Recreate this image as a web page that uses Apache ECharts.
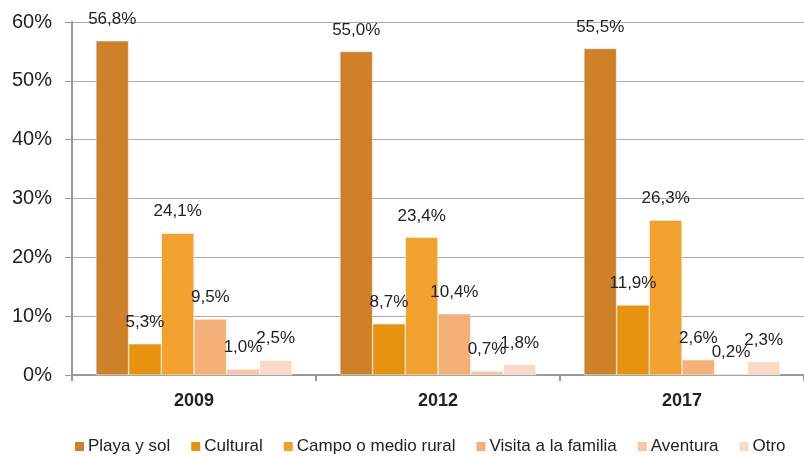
<!DOCTYPE html>
<html>
<head>
<meta charset="utf-8">
<script src="https://cdn.jsdelivr.net/npm/echarts@6/dist/echarts.min.js"></script>
<style>
  html, body { margin: 0; padding: 0; background: #fff; }
  #main { width: 804px; height: 456px; }
</style>
</head>
<body>
<div id="main"></div>
<script>
var years = ['2009', '2012', '2017']
var names = ['Playa y sol', 'Cultural', 'Campo o medio rural', 'Visita a la familia', 'Aventura', 'Otro']
var colors = ['#CF8129', '#E8930F', '#F2A02E', '#F5B077', '#F8C6A4', '#FBDAC8']
var playa = [56.8, 55.0, 55.5]
var cultural = [5.3, 8.7, 11.9]
var campo = [24.1, 23.4, 26.3]
var visita = [9.5, 10.4, 2.6]
var aventura = [1.0, 0.7, 0.2]
var otro = [2.5, 1.8, 2.3]
var values = [playa, cultural, campo, visita, aventura, otro]

var font = 'Liberation Sans, Arial, sans-serif'
var chart = echarts.init(document.getElementById('main'))

var series = names.map(function (n, i) {
  return {
    name: n,
    type: 'bar',
    data: values[i],
    barGap: '0%',
    barCategoryGap: '19.6%',
    itemStyle: { color: colors[i], borderColor: '#fff', borderWidth: 0.5 },
    label: {
      show: true,
      position: 'top',
      distance: 13,
      color: '#222',
      fontSize: 17,
      fontFamily: font,
      formatter: function (p) { return p.value.toFixed(1).replace('.', ',') + '%' }
    }
  }
})

chart.setOption({
  animation: false,
  legend: {
    bottom: 1,
    left: 73,
    padding: 0,
    itemWidth: 11,
    itemHeight: 11,
    itemGap: 19,
    icon: 'rect',
    textStyle: { fontSize: 17, color: '#222', fontFamily: font, padding: [0, 0, 0, -2] },
    data: names
  },
  grid: { left: 72, right: 0, top: 22, bottom: 81, containLabel: false },
  xAxis: {
    type: 'category',
    data: years,
    axisLine: { lineStyle: { color: '#999', width: 2 } },
    axisTick: { show: true, length: 6, lineStyle: { color: '#999', width: 2 } },
    axisLabel: { fontSize: 18, fontWeight: 'bold', color: '#222', fontFamily: font, margin: 17 }
  },
  yAxis: {
    type: 'value',
    min: 0,
    max: 60,
    interval: 10,
    axisLine: { show: true, lineStyle: { color: '#999', width: 2 } },
    axisTick: { show: true, length: 7, lineStyle: { color: '#999', width: 1 } },
    splitLine: { lineStyle: { color: '#aaa', width: 1 } },
    axisLabel: { fontSize: 20, color: '#222', fontFamily: font, margin: 20, formatter: '{value}%' }
  },
  series: series
})
</script>
</body>
</html>
